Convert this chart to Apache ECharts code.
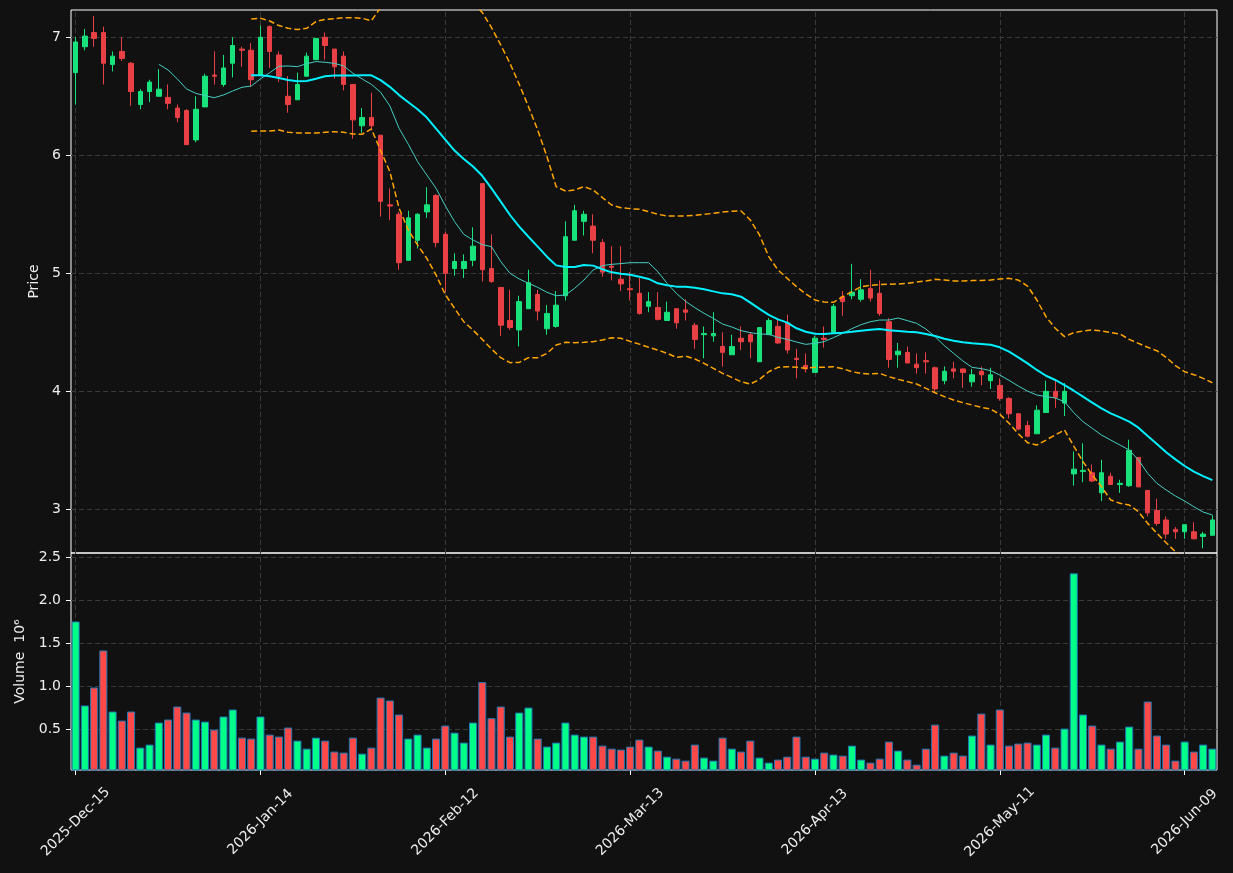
<!DOCTYPE html>
<html>
<head>
<meta charset="utf-8">
<script src="https://cdn.jsdelivr.net/npm/echarts@6/dist/echarts.min.js"></script>
<style>
html,body{margin:0;padding:0;background:#111111;}
#chart{width:1233px;height:873px;}
</style>
</head>
<body>
<div id="chart"></div>
<script>
// trading calendar
var startDay = '2025-12-15';
var barCount = 124;
var holidays = ['2025-12-25','2026-01-01','2026-01-19','2026-02-16','2026-04-03','2026-05-25'];
var tickIdx = [0,20,40,60,80,100,120];

var opens = [6.70,6.92,7.04,7.04,6.77,6.88,6.78,6.43,6.54,6.50,
 6.49,6.40,6.38,6.13,6.41,6.68,6.60,6.78,6.90,6.89,
 6.68,7.09,6.85,6.50,6.47,6.67,6.81,7.00,6.90,6.84,
 6.60,6.25,6.32,6.17,5.58,5.50,5.11,5.28,5.52,5.66,
 5.33,5.04,5.04,5.11,5.76,5.04,4.88,4.60,4.52,4.70,
 4.82,4.53,4.55,4.81,5.28,5.44,5.40,5.26,5.06,4.95,
 4.87,4.83,4.72,4.71,4.60,4.70,4.69,4.56,4.48,4.47,
 4.38,4.31,4.45,4.48,4.25,4.48,4.55,4.58,4.28,4.22,
 4.16,4.45,4.50,4.80,4.81,4.78,4.87,4.83,4.59,4.31,
 4.33,4.23,4.26,4.20,4.09,4.19,4.19,4.08,4.17,4.09,
 4.05,3.94,3.81,3.71,3.64,3.82,4.00,3.90,3.30,3.32,
 3.31,3.14,3.28,3.21,3.20,3.44,3.16,2.99,2.91,2.83,
 2.81,2.81,2.77,2.78];
var closes = [6.96,7.01,6.99,6.78,6.84,6.82,6.54,6.54,6.62,6.56,
 6.44,6.32,6.09,6.39,6.67,6.67,6.74,6.93,6.89,6.64,
 7.00,6.88,6.67,6.43,6.60,6.84,6.99,6.93,6.75,6.60,
 6.30,6.32,6.25,5.61,5.57,5.09,5.47,5.50,5.58,5.26,
 5.00,5.10,5.10,5.23,5.03,4.93,4.56,4.54,4.76,4.92,
 4.68,4.66,4.73,5.31,5.53,5.50,5.28,5.01,5.05,4.91,
 4.86,4.66,4.76,4.61,4.67,4.58,4.67,4.44,4.49,4.49,
 4.33,4.38,4.42,4.42,4.54,4.60,4.41,4.35,4.27,4.19,
 4.45,4.44,4.72,4.76,4.84,4.86,4.79,4.66,4.27,4.34,
 4.24,4.20,4.25,4.02,4.17,4.17,4.16,4.14,4.14,4.14,
 3.94,3.81,3.68,3.62,3.84,4.00,3.95,4.00,3.34,3.33,
 3.24,3.31,3.21,3.22,3.50,3.19,2.97,2.88,2.79,2.81,
 2.87,2.75,2.79,2.91];
var lows = [6.43,6.89,6.92,6.60,6.71,6.80,6.42,6.39,6.45,6.50,
 6.39,6.28,6.09,6.11,6.41,6.60,6.58,6.66,6.75,6.58,
 6.68,6.74,6.62,6.36,6.47,6.67,6.81,6.81,6.65,6.55,
 6.14,6.19,6.21,5.48,5.45,5.03,5.11,5.21,5.47,5.22,
 4.84,4.98,4.96,5.06,4.93,4.92,4.47,4.52,4.38,4.70,
 4.60,4.48,4.54,4.77,5.28,5.32,5.17,4.97,4.94,4.85,
 4.77,4.65,4.67,4.60,4.60,4.53,4.60,4.36,4.28,4.42,
 4.21,4.31,4.35,4.28,4.25,4.48,4.40,4.32,4.11,4.16,
 4.16,4.37,4.49,4.64,4.78,4.76,4.76,4.64,4.20,4.20,
 4.24,4.15,4.15,3.99,4.06,4.11,4.03,4.04,4.05,4.02,
 3.92,3.77,3.67,3.61,3.64,3.82,3.86,3.79,3.20,3.23,
 3.23,3.07,3.21,3.14,3.19,3.19,2.94,2.86,2.75,2.75,
 2.75,2.75,2.67,2.78];
var highs = [7.00,7.07,7.18,7.09,6.88,7.00,6.79,6.56,6.64,6.73,
 6.60,6.43,6.39,6.50,6.69,6.88,6.85,7.00,6.92,6.95,
 7.10,7.10,6.88,6.67,6.70,6.87,6.99,7.04,6.90,6.88,
 6.60,6.40,6.53,6.17,5.72,5.52,5.53,5.51,5.73,5.67,
 5.35,5.17,5.16,5.39,5.76,5.33,4.88,4.86,4.81,5.03,
 4.86,4.73,4.85,5.44,5.58,5.53,5.50,5.29,5.23,5.23,
 5.01,4.96,4.84,4.84,4.76,4.70,4.78,4.58,4.55,4.67,
 4.50,4.48,4.55,4.50,4.54,4.62,4.62,4.65,4.36,4.32,
 4.47,4.55,4.74,4.85,5.08,4.95,5.03,4.94,4.62,4.41,
 4.38,4.32,4.33,4.21,4.21,4.25,4.19,4.19,4.21,4.20,
 4.11,3.95,3.81,3.75,3.88,4.09,4.09,4.07,3.49,3.56,
 3.38,3.42,3.31,3.25,3.59,3.44,3.16,3.09,2.94,2.85,
 2.87,2.89,2.81,2.95];
// volume in millions
var volumes = [1.750,0.775,0.984,1.414,0.705,0.600,0.705,0.286,0.321,0.577,
 0.612,0.763,0.693,0.612,0.588,0.495,0.647,0.728,0.402,0.391,
 0.647,0.437,0.414,0.519,0.367,0.274,0.402,0.367,0.240,0.228,
 0.402,0.216,0.286,0.867,0.833,0.670,0.391,0.437,0.286,0.391,
 0.542,0.460,0.344,0.577,1.047,0.628,0.763,0.414,0.693,0.751,
 0.391,0.298,0.344,0.577,0.437,0.414,0.414,0.309,0.274,0.263,
 0.298,0.379,0.298,0.251,0.181,0.158,0.135,0.321,0.170,0.135,
 0.402,0.274,0.240,0.367,0.170,0.112,0.147,0.181,0.414,0.181,
 0.158,0.228,0.205,0.193,0.309,0.147,0.112,0.158,0.356,0.251,
 0.147,0.088,0.274,0.553,0.193,0.228,0.193,0.426,0.681,0.321,
 0.728,0.309,0.333,0.344,0.321,0.437,0.286,0.507,2.309,0.670,
 0.542,0.321,0.274,0.356,0.530,0.274,0.821,0.426,0.321,0.135,
 0.356,0.240,0.321,0.274];

// moving average (short), starts at bar 9
var maShort = Array(9).fill(null).concat([
 6.771,6.723,6.647,6.562,6.525,6.505,6.488,6.511,6.545,6.576,
 6.587,6.647,6.700,6.754,6.757,6.751,6.776,6.794,6.788,6.779,
 6.757,6.695,6.647,6.601,6.534,6.418,6.228,6.093,5.946,5.833,
 5.720,5.572,5.438,5.330,5.282,5.243,5.226,5.099,5.000,4.952,
 4.915,4.881,4.839,4.810,4.816,4.873,4.943,5.028,5.065,5.076,
 5.082,5.090,5.090,5.090,5.014,4.915,4.830,4.762,4.709,4.661,
 4.618,4.570,4.545,4.514,4.497,4.486,4.483,4.457,4.440,4.418,
 4.398,4.407,4.421,4.455,4.491,4.531,4.565,4.590,4.604,4.604,
 4.621,4.599,4.576,4.528,4.463,4.387,4.322,4.257,4.203,4.192,
 4.175,4.138,4.093,4.045,4.002,3.969,3.955,3.943,3.912,3.819,
 3.743,3.686,3.630,3.587,3.545,3.503,3.418,3.305,3.220,3.164,
 3.113,3.070,3.022,2.977,2.952]);
// moving average (long) and bands, start at bar 19
var maLong = Array(19).fill(null).concat([
 6.678,6.678,6.669,6.655,6.638,6.627,6.630,6.649,6.669,6.675,
 6.675,6.675,6.678,6.678,6.637,6.580,6.510,6.450,6.390,6.320,
 6.225,6.132,6.040,5.968,5.905,5.826,5.720,5.607,5.494,5.395,
 5.310,5.226,5.141,5.067,5.053,5.053,5.070,5.065,5.034,5.008,
 4.997,4.988,4.971,4.952,4.915,4.898,4.887,4.887,4.878,4.864,
 4.847,4.830,4.822,4.802,4.751,4.698,4.647,4.610,4.582,4.534,
 4.505,4.488,4.485,4.491,4.497,4.505,4.514,4.522,4.528,4.517,
 4.511,4.505,4.500,4.486,4.469,4.446,4.429,4.415,4.407,4.401,
 4.395,4.373,4.336,4.288,4.237,4.181,4.132,4.096,4.053,4.005,
 3.955,3.904,3.856,3.813,3.779,3.743,3.692,3.621,3.553,3.483,
 3.423,3.367,3.319,3.282,3.248]);
var bandUpper = Array(19).fill(null).concat([
 7.155,7.161,7.138,7.099,7.076,7.065,7.076,7.133,7.152,7.158,
 7.166,7.166,7.161,7.140,7.250,7.300,7.470,7.530,7.540,7.510,
 7.450,7.440,7.360,7.360,7.290,7.210,7.082,6.935,6.779,6.601,
 6.412,6.214,5.988,5.734,5.697,5.706,5.734,5.706,5.641,5.579,
 5.556,5.548,5.542,5.522,5.500,5.486,5.486,5.486,5.491,5.500,
 5.508,5.520,5.525,5.528,5.452,5.325,5.141,5.028,4.957,4.887,
 4.825,4.774,4.757,4.754,4.802,4.844,4.887,4.898,4.904,4.907,
 4.909,4.915,4.926,4.935,4.949,4.943,4.935,4.935,4.938,4.938,
 4.943,4.952,4.957,4.943,4.892,4.774,4.632,4.534,4.463,4.497,
 4.511,4.520,4.511,4.497,4.486,4.440,4.406,4.373,4.344,4.288,
 4.217,4.166,4.141,4.110,4.073]);
var bandLower = Array(19).fill(null).concat([
 6.203,6.206,6.206,6.214,6.195,6.189,6.189,6.189,6.195,6.200,
 6.195,6.180,6.178,6.223,6.040,5.861,5.551,5.367,5.240,5.127,
 4.986,4.820,4.703,4.590,4.519,4.440,4.358,4.285,4.243,4.245,
 4.285,4.285,4.322,4.392,4.415,4.412,4.415,4.421,4.435,4.454,
 4.449,4.423,4.400,4.373,4.350,4.322,4.288,4.299,4.274,4.237,
 4.195,4.152,4.118,4.082,4.062,4.101,4.166,4.203,4.209,4.203,
 4.195,4.203,4.203,4.209,4.192,4.166,4.152,4.147,4.152,4.124,
 4.101,4.082,4.062,4.025,3.988,3.955,3.926,3.904,3.884,3.864,
 3.850,3.805,3.730,3.640,3.565,3.545,3.587,3.630,3.672,3.536,
 3.404,3.291,3.192,3.079,3.051,3.036,2.980,2.881,2.797,2.717,
 2.641,2.567,2.497,2.454,2.423]);

var priceTicks = [3,4,5,6,7];
var volumeTicks = [0.5,1.0,1.5,2.0,2.5];

var MONTHS = ['Jan','Feb','Mar','Apr','May','Jun','Jul','Aug','Sep','Oct','Nov','Dec'];
function pad2(n){ return (n < 10 ? '0' : '') + n; }
function tradingDays(start, count) {
    var out = [];
    var d = new Date(start + 'T00:00:00Z');
    while (out.length < count) {
        var iso = d.getUTCFullYear() + '-' + pad2(d.getUTCMonth()+1) + '-' + pad2(d.getUTCDate());
        var wd = d.getUTCDay();
        if (wd !== 0 && wd !== 6 && holidays.indexOf(iso) < 0) {
            out.push(d.getUTCFullYear() + '-' + MONTHS[d.getUTCMonth()] + '-' + pad2(d.getUTCDate()));
        }
        d.setUTCDate(d.getUTCDate() + 1);
    }
    return out;
}
var dates = tradingDays(startDay, barCount);

var UP = '#17e27c', DOWN = '#e94046';
var VUP = '#00ff88', VDOWN = '#ff4848';
var TXT = '#eeeeee', GRIDC = '#3a3a3a';
var FONT = 'DejaVu Sans';

var chart = echarts.init(document.getElementById('chart'), null, {renderer: 'canvas'});

var ohlc = opens.map(function(o, i){ return [o, closes[i], lows[i], highs[i]]; });
var volData = volumes.map(function(v, i){
    return {value: v, itemStyle: {color: closes[i] >= opens[i] ? VUP : VDOWN}};
});
var vLines = tickIdx.map(function(i){ return {xAxis: dates[i]}; });
var vLineStyle = {type: [5, 3], color: GRIDC, width: 1};

function lineSeries(data, color, width, dashed) {
    return {
        type: 'line', xAxisIndex: 0, yAxisIndex: 0, data: data,
        showSymbol: false, symbol: 'none', z: 3, silent: true,
        lineStyle: {color: color, width: width, type: dashed ? [6, 3] : 'solid'}
    };
}

chart.setOption({
    backgroundColor: '#111111',
    animation: false,
    textStyle: {fontFamily: FONT},
    grid: [
        {left: 71, right: 16, top: 10, height: 543, show: true, borderColor: '#ffffff', borderWidth: 1, backgroundColor: 'transparent'},
        {left: 71, right: 16, top: 553, height: 217, show: true, borderColor: '#ffffff', borderWidth: 1, backgroundColor: 'transparent'}
    ],
    xAxis: [
        {type: 'category', gridIndex: 0, data: dates, boundaryGap: true,
         axisLine: {show: false}, axisTick: {show: false}, axisLabel: {show: false}, splitLine: {show: false}},
        {type: 'category', gridIndex: 1, data: dates, boundaryGap: true,
         axisLine: {show: false},
         axisTick: {show: true, interval: 19, alignWithLabel: true, length: 5, lineStyle: {color: '#ffffff'}},
         axisLabel: {interval: 19, rotate: 45, color: TXT, fontSize: 14, fontFamily: FONT,
                     margin: 52, align: 'center', verticalAlign: 'middle'},
         splitLine: {show: false}}
    ],
    yAxis: [
        {type: 'value', gridIndex: 0, min: 2.63, max: 7.231, scale: true,
         name: 'Price', nameLocation: 'middle', nameGap: 27,
         nameTextStyle: {color: TXT, fontSize: 14, fontFamily: FONT},
         axisLine: {show: false},
         axisTick: {show: true, length: 5, customValues: priceTicks, lineStyle: {color: '#ffffff'}},
         axisLabel: {color: TXT, fontSize: 14, fontFamily: FONT, margin: 10, customValues: priceTicks,
                     formatter: function(v){ return String(Math.round(v)); }},
         splitLine: {show: true, lineStyle: {type: [5, 3], color: GRIDC, width: 1}}},
        {type: 'value', gridIndex: 1, min: 0.026, max: 2.545, scale: true,
         name: 'Volume  10\u2076', nameLocation: 'middle', nameGap: 43,
         nameTextStyle: {color: TXT, fontSize: 14, fontFamily: FONT},
         axisLine: {show: false},
         axisTick: {show: true, length: 5, customValues: volumeTicks, lineStyle: {color: '#ffffff'}},
         axisLabel: {color: TXT, fontSize: 14, fontFamily: FONT, margin: 10, customValues: volumeTicks,
                     formatter: function(v){ return v.toFixed(1); }},
         splitLine: {show: true, lineStyle: {type: [5, 3], color: GRIDC, width: 1}}}
    ],
    series: [
        {type: 'candlestick', xAxisIndex: 0, yAxisIndex: 0, data: ohlc, barWidth: 5, z: 2, silent: true,
         itemStyle: {color: UP, color0: DOWN, borderColor: UP, borderColor0: DOWN, borderWidth: 1},
         markLine: {silent: true, z: 1, symbol: ['none', 'none'], label: {show: false}, lineStyle: vLineStyle, data: vLines}},
        lineSeries(maShort, '#45cfc4', 1, false),
        lineSeries(maLong, '#00f0ff', 2, false),
        lineSeries(bandUpper, '#ffa500', 1.5, true),
        lineSeries(bandLower, '#ffa500', 1.5, true),
        {type: 'bar', xAxisIndex: 1, yAxisIndex: 1, data: volData, barCategoryGap: '13%', z: 2, silent: true,
         itemStyle: {borderColor: '#1f77b4', borderWidth: 1},
         markLine: {silent: true, z: 1, symbol: ['none', 'none'], label: {show: false}, lineStyle: vLineStyle, data: vLines}}
    ]
});
</script>
</body>
</html>
